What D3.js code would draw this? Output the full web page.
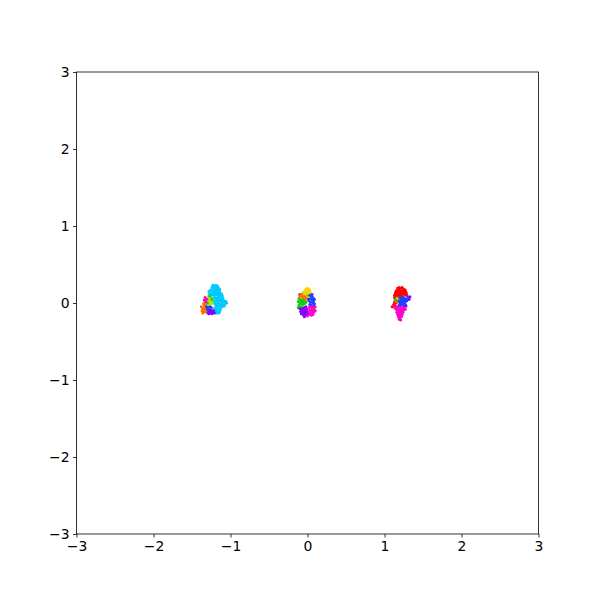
<!DOCTYPE html>
<html>
<head>
<meta charset="utf-8">
<script src="https://cdn.jsdelivr.net/npm/d3@7"></script>
<style>
  body { margin: 0; background: #fff; }
  svg text { font-family: "DejaVu Sans", sans-serif; }
</style>
</head>
<body>
<div id="chart"></div>
<script>
const ticks = [-3, -2, -1, 0, 1, 2, 3];

// one array of [x, y] points per colour class
const redPts = [
  [-0.10,0.11],
  [1.17,0.19],[1.19,0.20],[1.21,0.19],[1.23,0.20],[1.25,0.18],[1.15,0.16],[1.17,0.16],[1.19,0.17],
  [1.21,0.16],[1.23,0.16],[1.25,0.15],[1.27,0.17],[1.14,0.13],[1.16,0.13],[1.18,0.14],[1.20,0.13],
  [1.22,0.13],[1.24,0.12],[1.26,0.13],[1.28,0.14],[1.13,0.10],[1.15,0.10],[1.17,0.11],[1.19,0.10],
  [1.21,0.10],[1.23,0.09],[1.13,0.07],[1.15,0.07],[1.17,0.07],[1.14,0.04],[1.16,0.03],[1.13,0.01],
  [1.15,0.00],[1.12,-0.02],[1.27,0.10],[1.29,0.11],[1.14,-0.04],[1.10,-0.05]
];
const orangePts = [
  [-1.37,-0.10],[-1.35,-0.12],[-1.33,-0.11],[-1.36,-0.07],[-1.34,-0.08],[-1.32,-0.06],[-1.34,-0.04],
  [-1.32,-0.02],[-1.35,-0.01],[-1.33,0.01],[-1.31,-0.09],[-1.30,-0.13],[-1.38,-0.05],[-1.36,-0.13],
  [-0.08,0.11],[-0.06,0.12],[-0.04,0.09],[-0.07,0.08],[-0.05,0.06],[-0.02,0.07],[-0.09,0.05],
  [0.00,0.10],[-0.03,0.04],[-0.10,0.09],
  [1.17,0.05],[1.15,0.02]
];
const yellowPts = [
  [-1.30,0.05],[-1.26,0.04],
  [-0.02,0.18],[0.00,0.19],[0.02,0.18],[-0.03,0.15],[-0.01,0.16],[0.01,0.15],[0.03,0.16],
  [-0.04,0.12],[0.02,0.12],[0.04,0.13],
  [1.16,0.06],[1.19,0.04]
];
const limePts = [
  [-1.29,0.08],[-1.27,0.06],[-1.25,0.07],[-1.28,0.03],[-1.26,0.02],[-1.24,0.03],[-1.29,-0.01],
  [-1.27,-0.02],[-1.25,-0.01],[-1.23,0.00],[-1.28,0.11],[-1.26,0.10],
  [-0.05,0.14],[0.01,0.08],[-0.01,0.12]
];
const greenPts = [
  [-1.27,0.09],[-1.24,0.05],[-1.30,0.00],
  [-0.11,0.06],[-0.12,0.02],[-0.10,0.00],[-0.11,-0.03],[-0.09,0.03],[-0.08,-0.01],[-0.07,0.02],
  [-0.06,-0.02],[-0.08,-0.05],[-0.12,-0.06],[-0.05,0.01],[-0.04,-0.01],[-0.06,0.04],[-0.02,0.01],
  [1.18,0.02],[1.14,0.05]
];
const cyanPts = [
  [-1.23,0.23],[-1.21,0.22],[-1.19,0.23],[-1.17,0.22],[-1.24,0.20],[-1.22,0.19],[-1.20,0.20],
  [-1.18,0.19],[-1.16,0.20],[-1.26,0.17],[-1.23,0.16],[-1.21,0.17],[-1.19,0.16],[-1.17,0.17],
  [-1.15,0.16],[-1.14,0.18],[-1.25,0.13],[-1.22,0.13],[-1.20,0.14],[-1.18,0.13],[-1.16,0.13],
  [-1.14,0.14],[-1.12,0.12],[-1.24,0.10],[-1.21,0.10],[-1.19,0.11],[-1.17,0.10],[-1.15,0.10],
  [-1.13,0.09],[-1.11,0.10],[-1.10,0.07],[-1.22,0.06],[-1.20,0.07],[-1.18,0.06],[-1.16,0.07],
  [-1.14,0.06],[-1.12,0.05],[-1.10,0.04],[-1.08,0.03],[-1.06,0.02],[-1.05,0.00],[-1.07,-0.01],
  [-1.09,0.01],[-1.11,0.02],[-1.13,0.03],[-1.15,0.03],[-1.17,0.03],[-1.19,0.03],[-1.21,0.02],
  [-1.20,-0.01],[-1.18,-0.01],[-1.16,0.00],[-1.14,-0.01],[-1.12,-0.01],[-1.10,-0.02],[-1.08,-0.04],
  [-1.19,-0.04],[-1.17,-0.04],[-1.15,-0.04],[-1.13,-0.04],[-1.11,-0.05],[-1.21,-0.07],[-1.19,-0.07],
  [-1.17,-0.07],[-1.15,-0.07],[-1.13,-0.08],[-1.20,-0.10],[-1.18,-0.10],[-1.16,-0.10],[-1.14,-0.11],
  [-1.19,-0.13],[-1.17,-0.13],[-1.15,-0.13],[-1.28,0.15],[-1.27,0.12]
];
const bluePts = [
  [-1.31,-0.05],[-1.29,-0.06],[-1.27,-0.05],[-1.30,-0.08],[-1.28,-0.09],[-1.25,-0.06],
  [0.03,0.10],[0.05,0.09],[0.07,0.07],[0.04,0.06],[0.06,0.04],[0.08,0.03],[0.02,0.03],[0.04,0.01],
  [0.07,0.00],[0.09,-0.01],[0.03,-0.02],[0.05,-0.03],[0.08,-0.04],[0.01,0.05],[0.06,0.11],[0.09,0.05],
  [1.20,0.07],[1.22,0.06],[1.24,0.07],[1.26,0.06],[1.28,0.05],[1.19,0.03],[1.21,0.03],[1.23,0.04],
  [1.25,0.03],[1.27,0.02],[1.29,0.03],[1.20,0.00],[1.22,0.00],[1.24,0.01],[1.26,-0.01],[1.19,-0.03],
  [1.21,-0.03],[1.23,-0.02],[1.25,-0.04],[1.27,-0.02],[1.30,0.08],[1.31,0.05]
];
const purplePts = [
  [-1.29,-0.12],[-1.27,-0.11],[-1.25,-0.13],[-1.23,-0.12],[-1.21,-0.13],[-1.26,-0.09],[-1.24,-0.10],
  [-1.22,-0.10],[-1.28,-0.14],[-1.24,-0.14],
  [-0.08,-0.08],[-0.06,-0.07],[-0.04,-0.06],[-0.02,-0.05],[-0.09,-0.11],[-0.07,-0.10],[-0.05,-0.10],
  [-0.03,-0.09],[-0.01,-0.08],[-0.08,-0.14],[-0.06,-0.13],[-0.04,-0.13],[-0.02,-0.12],[0.00,-0.11],
  [-0.05,-0.16],[-0.03,-0.15],[-0.01,-0.15],[-0.04,-0.18],[0.01,-0.14],[-0.10,-0.07],
  [1.33,0.08],[1.32,0.05],[1.28,-0.04]
];
const magentaPts = [
  [-1.34,0.04],[-1.33,0.07],[-1.32,0.02],[-1.31,0.05],
  [0.02,-0.06],[0.04,-0.05],[0.06,-0.06],[0.08,-0.07],[0.10,-0.05],[0.03,-0.09],[0.05,-0.09],
  [0.07,-0.10],[0.09,-0.09],[0.02,-0.12],[0.04,-0.12],[0.06,-0.13],[0.08,-0.12],[0.03,-0.15],
  [0.05,-0.16],[0.07,-0.15],[0.10,-0.10],[0.00,-0.17],
  [1.16,-0.05],[1.18,-0.06],[1.20,-0.06],[1.22,-0.06],[1.24,-0.07],[1.26,-0.06],[1.15,-0.08],
  [1.17,-0.09],[1.19,-0.09],[1.21,-0.09],[1.23,-0.10],[1.25,-0.09],[1.27,-0.08],[1.16,-0.12],
  [1.18,-0.12],[1.20,-0.12],[1.22,-0.13],[1.24,-0.12],[1.17,-0.15],[1.19,-0.15],[1.21,-0.16],
  [1.23,-0.15],[1.18,-0.18],[1.20,-0.19],[1.22,-0.18],[1.19,-0.21],[1.21,-0.22],[1.13,-0.06]
];

const series = [
  { pts: redPts, color: "#ff0000" },
  { pts: orangePts, color: "#ff6a00" },
  { pts: yellowPts, color: "#ffd200" },
  { pts: limePts, color: "#b4e600" },
  { pts: greenPts, color: "#10cc10" },
  { pts: cyanPts, color: "#00c8ff" },
  { pts: bluePts, color: "#2040ff" },
  { pts: purplePts, color: "#8000ff" },
  { pts: magentaPts, color: "#ff00c8" }
];

const width = 600, height = 600;
const plotLeft = 76.5, plotTop = 72, plotSize = 462;

const svg = d3.select("#chart").append("svg")
  .attr("width", width)
  .attr("height", height);

const x = d3.scaleLinear().domain([-3, 3]).range([plotLeft, plotLeft + plotSize]);
const y = d3.scaleLinear().domain([-3, 3]).range([plotTop + plotSize, plotTop]);

const fmt = d => d < 0 ? "\u2212" + Math.abs(d) : String(d);

svg.append("g")
  .attr("transform", `translate(0,${plotTop + plotSize})`)
  .call(d3.axisBottom(x).tickValues(ticks).tickFormat(fmt).tickSizeInner(3.5).tickSizeOuter(0).tickPadding(3.5))
  .call(g => g.select(".domain").remove())
  .call(g => g.selectAll("line").attr("stroke-width", 0.8))
  .call(g => g.selectAll("text").attr("font-size", "13.9px").attr("fill", "#000"));

svg.append("g")
  .attr("transform", `translate(${plotLeft},0)`)
  .call(d3.axisLeft(y).tickValues(ticks).tickFormat(fmt).tickSizeInner(3.5).tickSizeOuter(0).tickPadding(3.5))
  .call(g => g.select(".domain").remove())
  .call(g => g.selectAll("line").attr("stroke-width", 0.8))
  .call(g => g.selectAll("text").attr("font-size", "13.9px").attr("fill", "#000"));

series.forEach(s => {
  svg.append("g")
    .selectAll("circle")
    .data(s.pts)
    .enter()
    .append("circle")
    .attr("cx", d => x(d[0]))
    .attr("cy", d => y(d[1]))
    .attr("r", 1.5)
    .attr("fill", s.color);
});

svg.append("rect")
  .attr("x", plotLeft)
  .attr("y", plotTop)
  .attr("width", plotSize)
  .attr("height", plotSize)
  .attr("fill", "none")
  .attr("stroke", "#000")
  .attr("stroke-width", 0.8);
</script>
</body>
</html>
